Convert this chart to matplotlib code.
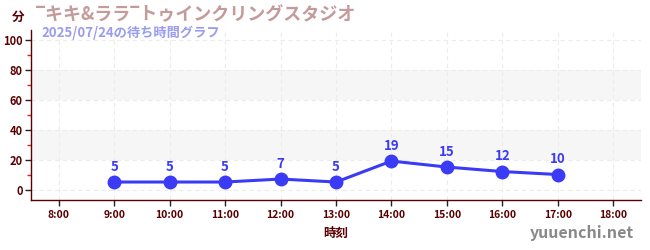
import matplotlib
matplotlib.use("Agg")
import matplotlib.pyplot as plt

plt.rcParams['font.family'] = ['Noto Sans CJK JP', 'DejaVu Sans']

hours = [9, 10, 11, 12, 13, 14, 15, 16, 17]
waits = [5, 5, 5, 7, 5, 19, 15, 12, 10]
xticks = [8, 9, 10, 11, 12, 13, 14, 15, 16, 17, 18]
xticklabels = [f"{h}:00" for h in xticks]
yticks = [0, 20, 40, 60, 80, 100]
title = "‾キキ&ララ‾トゥインクリングスタジオ"
subtitle = "2025/07/24の待ち時間グラフ"

fig = plt.figure(figsize=(6.5, 2.5), dpi=100)
ax = fig.add_axes([31/650, 50/250, 610/650, 170/250])
ax.set_xlim(7.5, 18.5)
ax.set_ylim(-7, 106.5)

for lo, hi in [(20, 40), (60, 80)]:
    ax.axhspan(lo, hi, color='#f6f6f6', zorder=0, lw=0)

ax.set_xticks(xticks)
ax.set_xticklabels(xticklabels)
ax.set_yticks(yticks)
ax.set_yticks(range(10, 101, 20), minor=True)
ax.grid(True, which='major', color='#ececec', linestyle=(0, (4, 3)), lw=0.8)

dark = '#5a0000'
for s in ['top', 'right']:
    ax.spines[s].set_visible(False)
for s in ['left', 'bottom']:
    ax.spines[s].set_color(dark)
    ax.spines[s].set_linewidth(1.0)
ax.tick_params(axis='both', which='major', colors='#222222', labelcolor=dark, length=4, width=1)
ax.tick_params(axis='y', which='minor', colors='#dd2222', length=3, width=1)
ax.tick_params(axis='x', labelsize=7.5, pad=3)
ax.tick_params(axis='y', labelsize=8, pad=2)
for lbl in ax.get_xticklabels() + ax.get_yticklabels():
    lbl.set_fontweight('bold')

color = '#3b3bf5'
ax.plot(hours, waits, color=color, lw=2.2, marker='o', markersize=9, zorder=3)
for h, w in zip(hours, waits):
    ax.annotate(str(w), (h, w), xytext=(0, 6), textcoords='offset points',
                ha='center', va='bottom', color=color, fontsize=9.5, fontweight='bold')

ax.set_xlabel("時刻", color=dark, fontsize=9, fontweight='bold', labelpad=5)
fig.text(12/650, 1 - 17/250, "分", color=dark, fontsize=9, fontweight='bold', ha='left', va='center')
fig.text(36/650, 1 - 15/250, title, color='#c49a9a', fontsize=13, fontweight='bold', ha='left', va='center')
fig.text(41/650, 1 - 33/250, subtitle, color='#9b9bf0', fontsize=9.5, fontweight='bold', ha='left', va='center')
fig.text(634/650, 1 - 233/250, "yuuenchi.net", color='#888888', fontsize=11.5, fontweight='bold', ha='right', va='center')

fig.savefig("out.png", dpi=100)
